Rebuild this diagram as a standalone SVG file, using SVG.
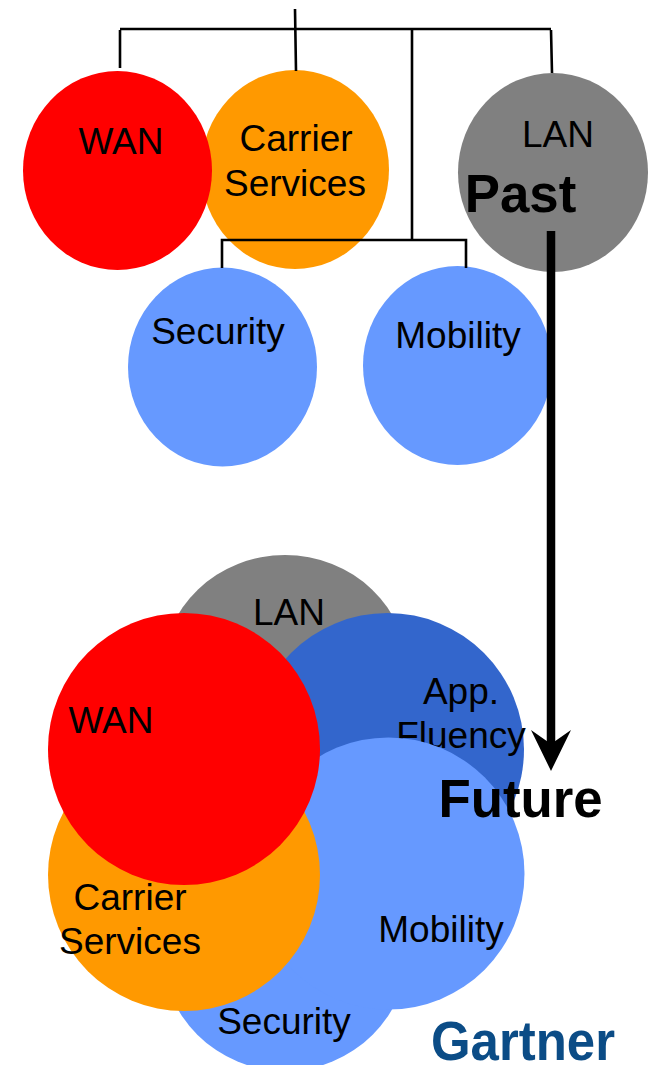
<svg xmlns="http://www.w3.org/2000/svg" width="652" height="1065" viewBox="0 0 652 1065">
<style>
text{font-family:"Liberation Sans",Arial,sans-serif;fill:#000;text-anchor:middle}
.l{font-size:37px}
.b{font-size:52.800px;font-weight:bold}
.c{fill:none;stroke:#000;stroke-width:2.6}
.red{fill:#f00}.or{fill:#f90}.gr{fill:#808080}.bl{fill:#69f}.db{fill:#36c}
</style>
<rect width="652" height="1065" fill="#fff"/>
<g id="past-carrier"><ellipse class="or" cx="295" cy="169.500" rx="94" ry="99.500"/><text class="l" x="296" y="151">Carrier</text><text class="l" x="295" y="196">Services</text></g>
<g id="past-wan"><ellipse class="red" cx="117.500" cy="170.500" rx="94.500" ry="99.500"/><text class="l" x="121" y="154">WAN</text></g>
<g id="past-lan"><ellipse class="gr" cx="553" cy="172.500" rx="95" ry="99.500"/><text class="l" x="558" y="147">LAN</text></g>
<g id="past-security"><ellipse class="bl" cx="222.500" cy="367" rx="94.500" ry="99.500"/><text class="l" x="218" y="344">Security</text></g>
<g id="past-mobility"><ellipse class="bl" cx="457.500" cy="365.500" rx="94.500" ry="99.500"/><text class="l" x="458" y="348">Mobility</text></g>
<g id="connectors">
<path class="c" d="M295 9L296 71M120 68V30M120 29H551M551 30L552 73M412 30V240M222 268V240H466V268"/>
</g>
<g id="future-lan"><ellipse class="gr" cx="285" cy="672.500" rx="123" ry="117.500"/><text class="l" x="289" y="625">LAN</text></g>
<g id="future-app"><circle class="db" cx="387.500" cy="749.500" r="136.500"/><text class="l" x="461" y="704">App.</text><text class="l" x="461" y="748">Fluency</text></g>
<g id="future-security"><circle class="bl" cx="285" cy="947" r="124"/><text class="l" x="284" y="1034">Security</text></g>
<g id="future-mobility"><circle class="bl" cx="388.500" cy="873.500" r="136"/><text class="l" x="441" y="942">Mobility</text></g>
<g id="future-carrier"><circle class="or" cx="184" cy="875" r="136"/><text class="l" x="130" y="910">Carrier</text><text class="l" x="130" y="954">Services</text></g>
<g id="future-wan"><circle class="red" cx="184" cy="749" r="136"/><text class="l" x="111" y="733">WAN</text></g>
<g id="arrow"><path d="M551 231V750" fill="none" stroke="#000" stroke-width="8.500"/><path d="M531 730L551 771L571 730L551 744Z" fill="#000"/></g>
<text class="b" x="520.500" y="212">Past</text>
<text class="b" x="520.500" y="817">Future</text>
<text x="523" y="1060" textLength="184" lengthAdjust="spacingAndGlyphs" style="font-size:55px;font-weight:bold;fill:#0b4c86">Gartner</text>
</svg>
